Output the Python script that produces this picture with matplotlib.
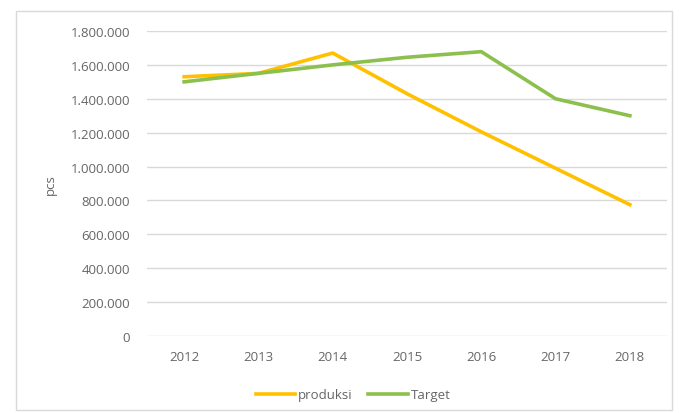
import matplotlib
matplotlib.use("Agg")
import matplotlib.pyplot as plt
from matplotlib.patches import Rectangle
from matplotlib.ticker import FuncFormatter

years = ["2012", "2013", "2014", "2015", "2016", "2017", "2018"]
produksi = [1530000, 1550000, 1670000, 1430000, 1205000, 990000, 775000]
target = [1500000, 1550000, 1600000, 1645000, 1678000, 1400000, 1300000]

plt.rcParams["font.family"] = ["Open Sans", "DejaVu Sans"]
grey = "#666666"

fig = plt.figure(figsize=(6.79, 4.14), dpi=100)
ax = fig.add_axes([147 / 679, 1 - 337 / 414, 520 / 679, 305 / 414])

x = range(len(years))
ax.plot(x, produksi, color="#FFC000", lw=2.6, label="produksi", solid_joinstyle="round")
ax.plot(x, target, color="#8CC04E", lw=2.6, label="Target", solid_joinstyle="round")

ax.set_xlim(-0.5, len(years) - 0.5)
ax.set_ylim(0, 1800000)
ax.set_yticks(range(0, 1800001, 200000))
ax.yaxis.set_major_formatter(FuncFormatter(lambda v, p: f"{int(v):,}".replace(",", ".")))
ax.set_xticks(list(x))
ax.set_xticklabels(years)
ax.grid(axis="y", color="#d9d9d9", lw=1)
ax.set_axisbelow(True)
for s in ax.spines.values():
    s.set_visible(False)
ax.tick_params(length=0, colors=grey, labelsize=9.5)
ax.tick_params(axis="y", pad=12)
ax.tick_params(axis="x", pad=10)
ax.set_ylabel("pcs", color=grey, fontsize=9.5, labelpad=10)

ax.legend(loc="center", bbox_to_anchor=(353 / 679, 1 - 396 / 414), bbox_transform=fig.transFigure,
          ncol=2, frameon=False, fontsize=9.5, labelcolor=grey, handlelength=3,
          columnspacing=1.2, handletextpad=0.2)

fig.patches.append(Rectangle((16 / 679, 1 - 411 / 414), 656 / 679, 399 / 414,
                             transform=fig.transFigure, fill=False, ec="#d9d9d9", lw=1))

fig.savefig("out.png", dpi=100)
